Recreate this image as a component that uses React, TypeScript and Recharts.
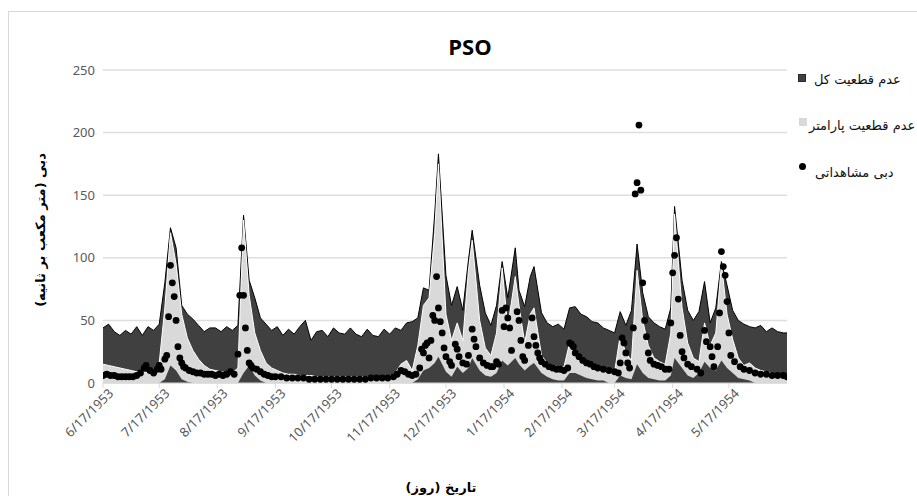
import React from 'react';
import { ComposedChart, Area, Scatter, XAxis, YAxis, CartesianGrid } from 'recharts';

// Day offsets from 6/17/1953
const bandDays = [
  0, 3, 6, 9, 12, 15, 18, 21, 24, 27,
  30, 33, 36, 39, 42, 45, 48, 51, 54, 57,
  60, 63, 66, 69, 72, 75, 78, 81, 84, 87,
  90, 93, 96, 99, 102, 105, 108, 111, 114, 117,
  120, 123, 126, 129, 132, 135, 138, 141, 144, 147,
  150, 153, 156, 159, 162, 165, 168, 171, 174, 177,
  179, 183, 186, 189, 192, 195, 197, 201, 204, 207,
  210, 213, 216, 220, 222, 225, 228, 230, 234, 237,
  240, 243, 246, 249, 252, 255, 258, 261, 264, 267,
  270, 273, 276, 279, 282, 285, 288, 291, 294, 297,
  300, 303, 305, 309, 312, 315, 318, 321, 324, 327,
  330, 333, 336, 339, 342, 345, 348, 351, 354, 357,
  360, 363, 365,
];

// total uncertainty upper bound
const totalUpper = [
  44, 47, 41, 38, 42, 39, 45, 38, 45, 42,
  47, 80, 124, 108, 62, 55, 51, 46, 41, 44,
  44, 41, 45, 42, 46, 134, 82, 68, 52, 47,
  42, 45, 38, 43, 39, 45, 50, 34, 41, 42,
  37, 44, 40, 39, 44, 39, 37, 43, 38, 37,
  43, 39, 44, 42, 48, 49, 52, 76, 74, 135,
  183, 86, 62, 77, 58, 98, 122, 78, 56, 46,
  62, 97, 68, 108, 74, 61, 85, 93, 56, 48,
  45, 47, 43, 60, 61, 55, 53, 49, 48, 44,
  42, 40, 57, 46, 58, 111, 72, 53, 48, 45,
  43, 60, 141, 82, 58, 50, 57, 81, 48, 60,
  97, 78, 58, 50, 47, 45, 44, 46, 41, 44,
  41, 40, 40,
];

// parameter uncertainty upper bound
const paramUpper = [
  15, 14, 13, 12, 11, 10, 9, 9, 8, 8,
  16, 60, 120, 95, 55, 36, 26, 19, 14, 11,
  10, 9, 8, 8, 12, 130, 70, 40, 26, 16,
  12, 10, 8, 7, 7, 6, 6, 6, 5, 5,
  5, 5, 5, 5, 5, 5, 5, 5, 5, 5,
  5, 6, 8, 15, 18, 10, 30, 62, 68, 120,
  175, 55, 34, 48, 34, 90, 114, 50, 28, 22,
  40, 92, 45, 85, 62, 32, 55, 60, 22, 16,
  14, 13, 13, 32, 26, 20, 16, 14, 13, 12,
  10, 9, 38, 24, 18, 90, 50, 30, 20, 17,
  15, 40, 135, 60, 32, 20, 17, 48, 30, 40,
  95, 55, 35, 20, 14, 16, 12, 10, 9, 8,
  7, 6, 6,
];

// parameter uncertainty lower bound
const paramLower = [
  0, 0, 0, 0, 0, 0, 0, 0, 0, 0,
  0, 3, 14, 10, 3, 1, 0, 0, 0, 0,
  0, 0, 0, 0, 0, 8, 14, 6, 2, 0,
  0, 0, 0, 0, 0, 0, 0, 0, 0, 0,
  0, 0, 0, 0, 0, 0, 0, 0, 0, 0,
  0, 0, 0, 0, 0, 0, 3, 10, 12, 16,
  21, 9, 5, 13, 8, 12, 20, 10, 6, 5,
  8, 18, 14, 20, 15, 10, 14, 16, 8, 5,
  3, 2, 2, 8, 8, 6, 4, 3, 2, 2,
  0, 0, 6, 4, 3, 15, 8, 4, 3, 2,
  2, 6, 20, 12, 6, 4, 8, 17, 12, 10,
  18, 12, 8, 4, 3, 2, 0, 0, 0, 0,
  0, 0, 0,
];

// observed discharge
const obsDays = [
  0, 2, 4, 6, 8, 10, 12, 14, 16, 18, 20, 22, 23, 25, 27, 29, 30, 31, 33, 34,
  35, 36, 37, 38, 39, 40, 41, 42, 43, 44, 46, 48, 50, 52, 54, 56, 58, 60, 62, 64,
  66, 68, 70, 72, 73, 74, 75, 76, 77, 78, 79, 80, 82, 84, 86, 88, 90, 92, 95, 98,
  101, 104, 107, 110, 113, 116, 119, 122, 125, 128, 131, 134, 137, 140, 143, 146, 149, 152, 155, 157,
  159, 161, 163, 165, 167, 169, 170, 171, 172, 173, 174, 175, 176, 177, 178, 179, 180, 181, 182, 183,
  185, 186, 188, 189, 190, 192, 194, 195, 197, 198, 199, 201, 203, 205, 207, 208, 210, 211, 213, 214,
  215, 216, 217, 218, 221, 222, 223, 224, 225, 227, 229, 230, 231, 232, 233, 234, 236, 238, 240, 242,
  244, 246, 248, 249, 250, 251, 252, 254, 256, 258, 260, 262, 264, 267, 270, 273, 275, 276, 277, 278,
  279, 280, 281, 283, 284, 285, 286, 287, 288, 289, 290, 291, 292, 294, 296, 298, 300, 302, 303, 304,
  305, 306, 307, 308, 309, 310, 312, 314, 317, 319, 321, 322, 324, 325, 326, 328, 329, 330, 331, 332,
  333, 334, 335, 337, 340, 342, 345, 348, 351, 354, 357, 360, 363, 365,
];
const obsValues = [
  6, 7, 6, 6, 5, 5, 5, 5, 5, 6, 8, 12, 14, 10, 8, 11, 14, 11, 19, 22,
  53, 94, 80, 69, 50, 29, 20, 16, 13, 12, 10, 9, 8, 8, 7, 7, 7, 6, 7, 6,
  7, 9, 7, 23, 70, 108, 70, 44, 26, 16, 14, 12, 11, 9, 7, 6, 5, 5, 5, 4,
  4, 4, 4, 3, 3, 3, 3, 3, 3, 3, 3, 3, 3, 3, 4, 4, 4, 4, 5, 7,
  10, 9, 7, 6, 7, 12, 27, 24, 30, 32, 20, 34, 54, 50, 85, 60, 49, 40, 28, 21,
  17, 14, 31, 27, 21, 16, 15, 22, 43, 35, 29, 20, 16, 14, 13, 13, 17, 15, 58, 45,
  60, 52, 44, 26, 57, 50, 34, 21, 18, 30, 52, 37, 30, 24, 20, 17, 15, 13, 12, 11,
  11, 10, 12, 32, 31, 29, 24, 21, 18, 16, 15, 13, 12, 11, 10, 9, 8, 16, 36, 32,
  24, 16, 12, 44, 151, 160, 206, 154, 80, 50, 37, 24, 18, 15, 14, 13, 11, 11, 48, 88,
  102, 116, 67, 38, 25, 20, 15, 13, 11, 8, 42, 33, 29, 21, 13, 29, 56, 105, 93, 86,
  65, 40, 22, 17, 13, 11, 10, 8, 7, 7, 6, 6, 6, 5,
];

const tickDays = [0, 30, 61, 92, 122, 153, 183, 214, 245, 273, 304, 334];
const tickLabels = [
  '6/17/1953', '7/17/1953', '8/17/1953', '9/17/1953', '10/17/1953', '11/17/1953',
  '12/17/1953', '1/17/1954', '2/17/1954', '3/17/1954', '4/17/1954', '5/17/1954',
];
const yTicks = [0, 50, 100, 150, 200, 250];

const titleText = 'PSO';
const yAxisTitle = 'دبی (متر مکعب بر ثانیه)';
const xAxisTitle = 'تاریخ (روز)';
const legendTotal = 'عدم قطعیت کل';
const legendParam = 'عدم قطعیت پارامتر';
const legendObs = 'دبی مشاهداتی';

const bandData = bandDays.map((d, i) => ({
  day: d,
  totalUpper: totalUpper[i],
  paramUpper: paramUpper[i],
  paramLower: paramLower[i],
}));
const obsData = obsDays.map((d, i) => ({ day: d, obs: obsValues[i] }));

const XTick = (props: any) => {
  const { x, y, payload } = props;
  const idx = tickDays.indexOf(payload.value);
  const label = idx >= 0 ? tickLabels[idx] : '';
  return (
    <g transform={`translate(${x + 8},${y + 1})`}>
      <text
        textAnchor="end"
        transform="rotate(-45)"
        fill="#595959"
        fontSize={13}
        fontFamily="'Noto Sans', sans-serif"
        dy="0.35em"
      >
        {label}
      </text>
    </g>
  );
};

const ObsDot = (props: any) => {
  const { cx, cy } = props;
  if (cx == null || cy == null) return null;
  return <circle cx={cx} cy={cy} r={3.4} fill="#000" />;
};

const persian = "'DejaVu Sans', sans-serif";

const legendText: React.CSSProperties = {
  position: 'absolute', fontFamily: persian, fontSize: 13, color: '#111',
  whiteSpace: 'nowrap', lineHeight: '18px',
};

export default function App() {
  return (
    <div style={{ position: 'relative', width: 917, height: 496, background: '#fff', overflow: 'hidden' }}>
      <style>{`body{margin:0;overflow:hidden;}`}</style>
      <div
        style={{
          position: 'absolute', left: 8, top: 11, width: 960, height: 560,
          borderTop: '1px solid #d9d9d9', borderLeft: '1px solid #d9d9d9',
        }}
      />
      <ComposedChart
        width={917}
        height={496}
        data={bandData}
        margin={{ top: 70, right: 130, bottom: 0, left: 0 }}
        style={{ position: 'absolute', left: 0, top: 0 }}
      >
        <CartesianGrid vertical={false} stroke="#dedede" strokeWidth={1.5} />
        <XAxis
          type="number"
          dataKey="day"
          domain={[0, 365]}
          ticks={tickDays}
          interval={0}
          tick={<XTick />}
          tickSize={5}
          tickLine={{ stroke: '#d9d9d9' }}
          axisLine={{ stroke: '#d9d9d9' }}
          height={113}
          allowDataOverflow
        />
        <YAxis
          type="number"
          domain={[0, 250]}
          ticks={yTicks}
          interval={0}
          width={103}
          axisLine={false}
          tickLine={false}
          tick={{ fill: '#595959', fontSize: 13, fontFamily: "'Noto Sans', sans-serif" }}
        />
        <Area
          type="linear"
          dataKey="totalUpper"
          fill="#404040"
          fillOpacity={1}
          stroke="#000"
          strokeWidth={1}
          isAnimationActive={false}
          dot={false}
          activeDot={false}
        />
        <Area
          type="linear"
          dataKey="paramUpper"
          fill="#d9d9d9"
          fillOpacity={1}
          stroke="#ffffff"
          strokeWidth={1}
          isAnimationActive={false}
          dot={false}
          activeDot={false}
        />
        <Area
          type="linear"
          dataKey="paramLower"
          fill="#404040"
          fillOpacity={1}
          stroke="none"
          isAnimationActive={false}
          dot={false}
          activeDot={false}
        />
        <Scatter
          data={obsData}
          dataKey="obs"
          fill="#000"
          shape={<ObsDot />}
          isAnimationActive={false}
        />
      </ComposedChart>

      <div
        style={{
          position: 'absolute', left: 470, top: 31, transform: 'translateX(-50%)',
          fontFamily: "'Open Sans', sans-serif", fontWeight: 700, fontSize: 22, color: '#000',
          lineHeight: '30px', whiteSpace: 'nowrap',
        }}
      >
        {titleText}
      </div>

      <div
        dir="rtl"
        style={{
          position: 'absolute', left: 40, top: 230, transform: 'translate(-50%,-50%) rotate(-90deg)',
          fontFamily: persian, fontWeight: 700, fontSize: 13, color: '#000', whiteSpace: 'nowrap',
        }}
      >
        {yAxisTitle}
      </div>

      <div
        dir="rtl"
        style={{
          position: 'absolute', left: 441, top: 487, transform: 'translate(-50%,-50%)',
          fontFamily: persian, fontWeight: 700, fontSize: 13, color: '#000', whiteSpace: 'nowrap',
        }}
      >
        {xAxisTitle}
      </div>

      {/* legend */}
      <div style={{ position: 'absolute', left: 798, top: 74, width: 8, height: 8, background: '#404040', border: '1px solid #2a2a2a', boxSizing: 'border-box' }} />
      <div dir="rtl" style={{ ...legendText, left: 814, top: 71 }}>
        {legendTotal}
      </div>
      <div style={{ position: 'absolute', left: 799, top: 118, width: 8, height: 8, background: '#d9d9d9' }} />
      <div dir="rtl" style={{ ...legendText, left: 809, top: 117 }}>
        {legendParam}
      </div>
      <div style={{ position: 'absolute', left: 799, top: 163, width: 7, height: 7, borderRadius: '50%', background: '#000' }} />
      <div dir="rtl" style={{ ...legendText, left: 815, top: 164 }}>
        {legendObs}
      </div>
    </div>
  );
}
